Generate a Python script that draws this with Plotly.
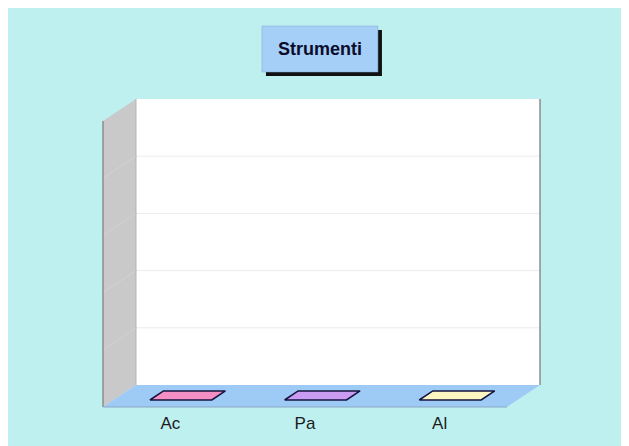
import plotly.graph_objects as go

# ---- data ----
categories = ["Ac", "Pa", "Al"]
values = [0, 0, 0]
bar_colors = ["#f48fc3", "#c99cf2", "#fbf6c2"]
grid_values = [1, 2, 3, 4]
y_max = 5
title_text = "Strumenti"

# ---- layout geometry (page px; figure sits at body margin 8,8) ----
OX, OY = 8, 8
W, H = 620, 438
n = len(categories)
ux, uy = 134.7, 57.2          # px per category / px per value unit
DX, DY = 33 / ux, 22 / uy     # 3D depth offset in axis units
pad = 4
x_range = [-pad / ux, n + DX + pad / ux]
y_range = [-DY - pad / uy, y_max + pad / uy]
L, T = 103 - pad - OX, 99 - pad - OY
R = W - (L + (x_range[1] - x_range[0]) * ux)
B = H - (T + (y_range[1] - y_range[0]) * uy)
plot_w = W - L - R
plot_h = H - T - B


def P(c, v, d):
    """point at category coord c, value v, depth d (0 front, 1 back)"""
    return c + d * DX, v - (1 - d) * DY


def px_to_paper(px, py):
    return (px - OX - L) / plot_w, (H - B - (py - OY)) / plot_h


fig = go.Figure()
shapes = []


def poly(points, **kw):
    path = "M " + " L ".join(f"{x},{y}" for x, y in points) + " Z"
    d = dict(type="path", xref="x", yref="y", path=path, layer="below")
    d.update(kw)
    return d


# back wall
shapes.append(poly([P(0, 0, 1), P(n, 0, 1), P(n, y_max, 1), P(0, y_max, 1)],
                   fillcolor="white", line=dict(width=0)))
# side wall
shapes.append(poly([P(0, 0, 0), P(0, 0, 1), P(0, y_max, 1), P(0, y_max, 0)],
                   fillcolor="#c9c9c9", line=dict(width=0)))
# floor
shapes.append(poly([P(0, 0, 0), P(n, 0, 0), P(n, 0, 1), P(0, 0, 1)],
                   fillcolor="#9ecbf5", line=dict(width=0)))

# gridlines
for v in grid_values:
    a, b = P(0, v, 1), P(n, v, 1)
    shapes.append(dict(type="line", xref="x", yref="y", x0=a[0], y0=a[1], x1=b[0], y1=b[1],
                       line=dict(color="#ececec", width=1), layer="below"))
    a, b = P(0, v, 0), P(0, v, 1)
    shapes.append(dict(type="line", xref="x", yref="y", x0=a[0], y0=a[1], x1=b[0], y1=b[1],
                       line=dict(color="#d2d2d2", width=1), layer="below"))


def edge(p, q, color, width):
    shapes.append(dict(type="line", xref="x", yref="y", x0=p[0], y0=p[1], x1=q[0], y1=q[1],
                       line=dict(color=color, width=width), layer="below"))


edge(P(n, 0, 1), P(n, y_max, 1), "#8c8c8c", 1.5)
edge(P(0, 0, 0), P(0, y_max, 0), "#8c8c8c", 1.5)
edge(P(0, 0, 1), P(0, y_max, 1), "#b4b4b4", 1)
edge(P(0, 0, 0), P(n, 0, 0), "#8aa6c4", 1)

# bars
bw, d0, d1 = 0.46, 0.32, 0.73
for i, (cat, v, col) in enumerate(zip(categories, values, bar_colors)):
    c0, c1 = i + 0.5 - bw / 2, i + 0.5 + bw / 2
    faces = []
    if v > 0:
        faces.append([P(c0, 0, d0), P(c1, 0, d0), P(c1, v, d0), P(c0, v, d0)])
        faces.append([P(c1, 0, d0), P(c1, 0, d1), P(c1, v, d1), P(c1, v, d0)])
    faces.append([P(c0, v, d0), P(c1, v, d0), P(c1, v, d1), P(c0, v, d1)])
    for f in faces:
        xs = [p[0] for p in f] + [f[0][0]]
        ys = [p[1] for p in f] + [f[0][1]]
        fig.add_trace(go.Scatter(x=xs, y=ys, mode="lines", fill="toself", fillcolor=col,
                                 line=dict(color="#15153f", width=1.6), hoverinfo="skip",
                                 showlegend=False, name=cat))

# title box
bx0, by0 = px_to_paper(262, 26)
bx1, by1 = px_to_paper(378, 72)
sx0, sy0 = px_to_paper(266, 30)
sx1, sy1 = px_to_paper(382, 76)
shapes.append(dict(type="rect", xref="paper", yref="paper", x0=sx0, y0=sy1, x1=sx1, y1=sy0,
                   fillcolor="#111111", line=dict(width=0), layer="above"))
shapes.append(dict(type="rect", xref="paper", yref="paper", x0=bx0, y0=by1, x1=bx1, y1=by0,
                   fillcolor="#a6cff7", line=dict(color="#7fa8d0", width=0.5), layer="above"))
tx, ty = px_to_paper(320, 49)

fig.update_layout(
    width=W, height=H,
    margin=dict(l=L, r=R, t=T, b=B, pad=0),
    paper_bgcolor="#bef0f0",
    plot_bgcolor="rgba(0,0,0,0)",
    shapes=shapes,
    annotations=[dict(text=f"<b>{title_text}</b>", xref="paper", yref="paper", x=tx, y=ty,
                      showarrow=False, xanchor="center", yanchor="middle",
                      font=dict(family="Liberation Sans, Arial", size=18, color="#0b0b2b"))],
    xaxis=dict(range=x_range, showgrid=False, zeroline=False, showline=False,
               tickmode="array", tickvals=[i + 0.5 for i in range(n)], ticktext=categories,
               ticks="", tickfont=dict(family="Liberation Sans, Arial", size=17, color="#1c1c1c"),
               fixedrange=True),
    yaxis=dict(range=y_range, showgrid=False, zeroline=False, showline=False,
               showticklabels=False, ticks="", fixedrange=True),
    showlegend=False,
)

fig.write_html("out.html")
